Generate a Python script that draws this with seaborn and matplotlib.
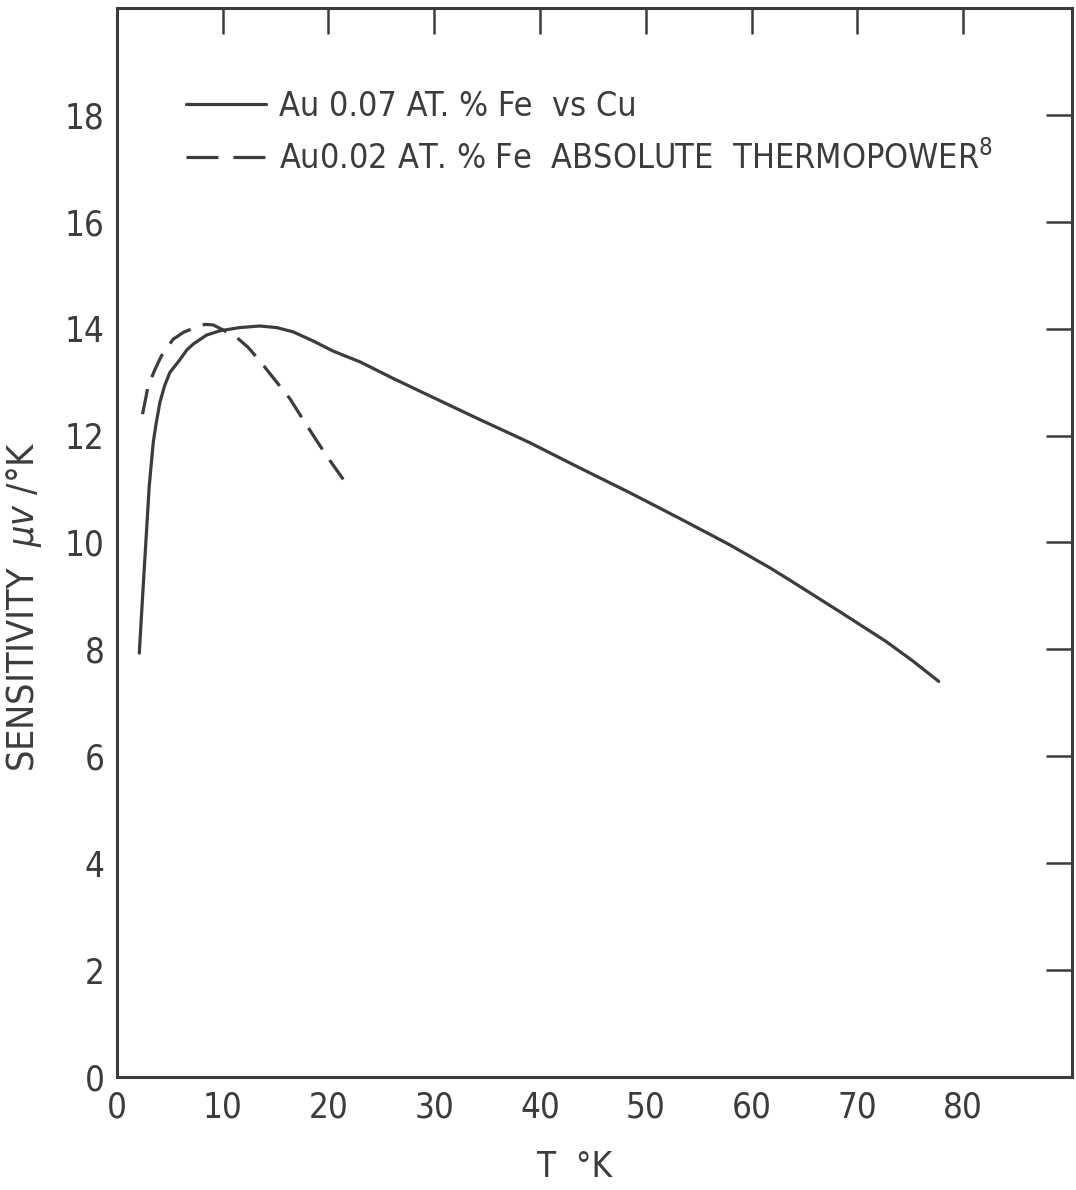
import numpy as np
import pandas as pd
import matplotlib
matplotlib.use("Agg")
import matplotlib.pyplot as plt
import seaborn as sns

# --- data ---
solid_label = "Au 0.07 AT. % Fe  vs Cu"
dashed_label = "Au0.02 AT. % Fe  ABSOLUTE  THERMOPOWER$^{8}$"

t_solid = [2.11, 2.48, 2.73, 3.05, 3.43, 3.7, 4.06, 4.5, 5.0, 5.95, 6.6, 7.2, 8.47, 9.73,
           11.6, 13.5, 15.1, 16.66, 18.55, 20.44, 22.97, 26.0, 29.6, 34.3, 39.0, 43.7,
           48.5, 53.2, 57.9, 61.7, 63.5, 65.9, 68.3, 70.5, 72.7, 75.2, 77.7]
s_solid = [7.93, 9.18, 10.0, 11.05, 11.87, 12.22, 12.62, 12.93, 13.18, 13.42, 13.6, 13.71, 13.88, 13.96,
           14.02, 14.05, 14.02, 13.94, 13.77, 13.58, 13.38, 13.08, 12.74, 12.3, 11.87, 11.4,
           10.93, 10.45, 9.96, 9.53, 9.31, 9.01, 8.71, 8.43, 8.15, 7.79, 7.4]

t_dash = [2.42, 2.95, 3.6, 4.2, 5.3, 6.27, 7.37, 8.32, 9.1, 9.89, 11.3, 12.4, 13.5,
          14.9, 16.35, 17.5, 18.7, 20.0, 21.4]
s_dash = [12.4, 12.93, 13.24, 13.49, 13.8, 13.93, 14.02, 14.08, 14.07, 13.99, 13.84, 13.65, 13.4,
          13.05, 12.69, 12.33, 11.96, 11.57, 11.18]

x_ticks = [0, 10, 20, 30, 40, 50, 60, 70, 80]
y_ticks = [0, 2, 4, 6, 8, 10, 12, 14, 16, 18]

df = pd.DataFrame({
    "T": t_solid + t_dash,
    "S": s_solid + s_dash,
    "series": [solid_label] * len(t_solid) + [dashed_label] * len(t_dash),
})

sns.set_theme(style="white")
plt.rcParams["font.family"] = ["DejaVu Sans"]
plt.rcParams["font.stretch"] = "condensed"

ink = "#3c3c3c"
fig = plt.figure(figsize=(10.76, 11.90), dpi=100)
ax = fig.add_axes([0.1087, 0.095, 0.8876, 0.8983])

sns.lineplot(data=df, x="T", y="S", style="series",
             dashes={solid_label: "", dashed_label: (8, 4)},
             color=ink, linewidth=2.3, sort=False, estimator=None, ax=ax, legend=True)

ax.set_xlim(0, 90.3)
ax.set_ylim(0, 20)
ax.set_xticks(x_ticks)
ax.set_yticks(y_ticks)
ax.tick_params(axis="both", which="major", direction="in", length=19, width=1.8,
               colors=ink, labelsize=25, top=True, right=True, pad=9)
ax.tick_params(axis="x", pad=10)
for sp in ax.spines.values():
    sp.set_color(ink)
    sp.set_linewidth(2.2)

ax.set_xlabel("T  °K", fontsize=25, color=ink)
ax.set_ylabel(r"SENSITIVITY  $\mathit{\mu v}$ /°K", fontsize=27, color=ink)
ax.xaxis.set_label_coords(0.479, -0.068)
ax.yaxis.set_label_coords(-0.076, 0.44)

leg = ax.legend(loc="upper left", bbox_to_anchor=(0.0404, 0.952), frameon=False,
                fontsize=24.5, handlelength=2.35, handletextpad=0.38, labelspacing=0.5,
                title=None)
leg_lines = leg.get_lines()
for line in leg_lines:
    line.set_linewidth(2.3)
leg_lines[1].set_dashes([10, 4.7])
for txt in leg.get_texts():
    txt.set_color(ink)

fig.savefig("out.png", dpi=100, facecolor="white")
